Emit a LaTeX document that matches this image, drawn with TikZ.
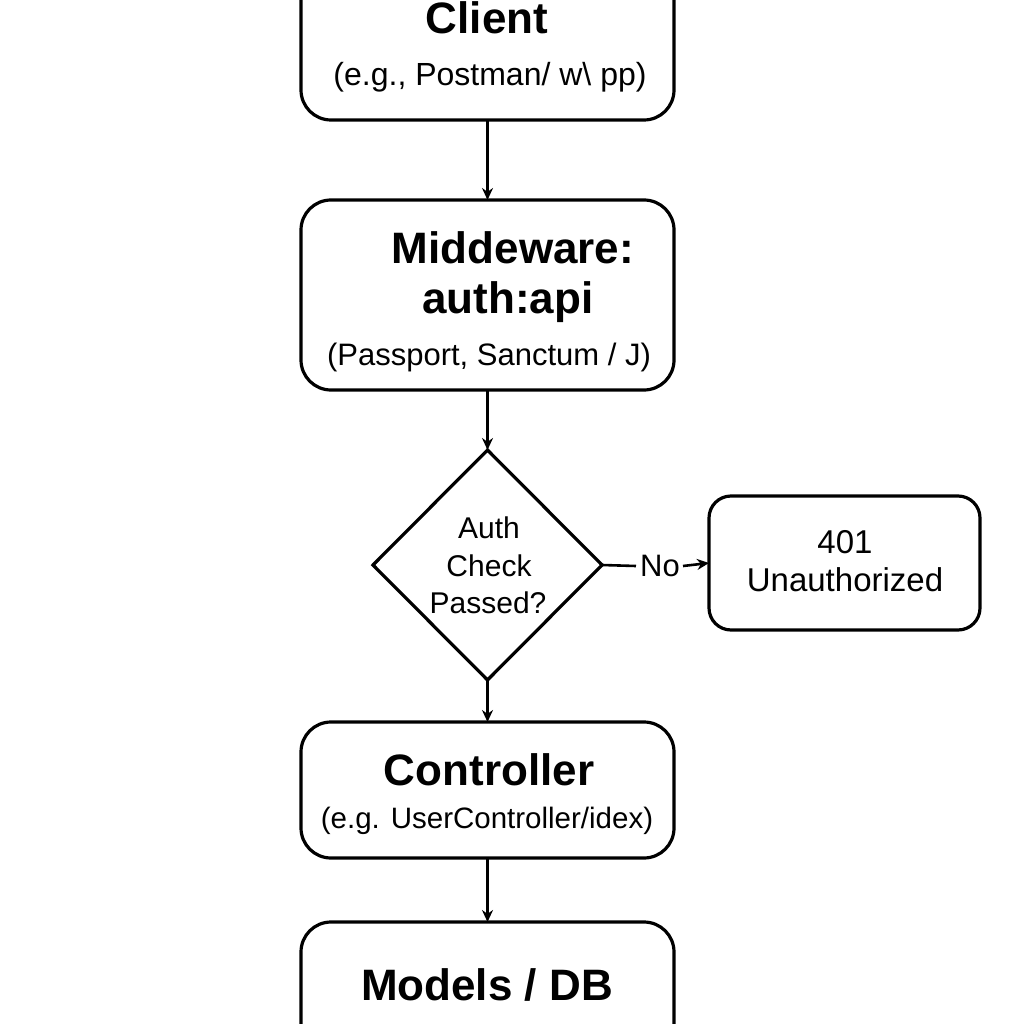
\documentclass[tikz,border=0pt]{standalone}
\usepackage{fontspec}
\setmainfont{Liberation Sans}
\usetikzlibrary{shapes.geometric,arrows.meta}
\begin{document}
\begin{tikzpicture}[x=1pt,y=-1pt,
  box/.style={draw=black,line width=3.2pt,rounded corners=30pt,inner sep=0pt,outer sep=0pt},
  smallbox/.style={draw=black,line width=3.2pt,rounded corners=22pt,inner sep=0pt,outer sep=0pt},
  dia/.style={draw=black,line width=3.2pt,diamond,inner sep=0pt,outer sep=0pt,minimum width=229pt,minimum height=230pt},
  arr/.style={line width=2.6pt,-{Stealth[length=12pt,width=11pt]}},
  ln/.style={line width=2.6pt},
  head/.style={font=\fontsize{44}{48}\selectfont\bfseries,inner sep=0pt},
  sub/.style={font=\fontsize{30}{34}\selectfont,inner sep=0pt},
  dtxt/.style={font=\fontsize{30}{34}\selectfont,inner sep=0pt}
]
\useasboundingbox (0,0) rectangle (1024,1024);
\fill[white] (0,0) rectangle (1024,1024);

% boxes
\node[box,minimum width=373pt,minimum height=180pt] (client) at (487.5,30) {};
\node[box,minimum width=373pt,minimum height=190pt] (mid) at (487.5,295) {};
\node[dia] (chk) at (487.5,565) {};
\node[smallbox,minimum width=271pt,minimum height=134pt] (err) at (844.5,563) {};
\node[box,minimum width=373pt,minimum height=136pt] (ctl) at (487.5,790) {};
\node[box,minimum width=373pt,minimum height=200pt] (mod) at (487.5,1022) {};

% texts
\node[head] (tclient) at (487,18) {Client};
\node[sub,font=\fontsize{32}{36}\selectfont] (sclient) at (490,77) {(e.g., Postman/ w\textbackslash\ pp)};
\node[head] (tmid1) at (513,248) {Middeware:};
\node[head] (tmid2) at (508,302) {auth:api};
\node[sub,font=\fontsize{31}{34}\selectfont] (smid) at (489,357) {(Passport, Sanctum / J)};
\node[dtxt] (d1) at (489,528) {Auth};
\node[dtxt] (d2) at (489,566) {Check};
\node[dtxt] (d3) at (488,603) {Passed?};
\node[dtxt,font=\fontsize{33}{36}\selectfont] (e1) at (845,542) {401};
\node[dtxt,font=\fontsize{33}{36}\selectfont] (e2) at (845,580) {Unauthorized};
\node[head] (tctl) at (489,770) {Controller};
\node[sub,font=\fontsize{29.5}{33}\selectfont] (sctl) at (487,821) {(e.g. UserController/idex)};
\node[head] (tmod) at (487,985) {Models / DB};

% connectors
\draw[arr] (client.south) -- (mid.north);
\draw[arr] (mid.south) -- (chk.north);
\node[dtxt,font=\fontsize{31}{34}\selectfont] (no) at (660,566) {No};
\draw[ln] (chk.east) -- ([xshift=-4pt]no.west);
\draw[arr] ([xshift=3pt]no.east) -- (err.west);
\draw[arr] (chk.south) -- (ctl.north);
\draw[arr] (ctl.south) -- (mod.north);
\end{tikzpicture}
\end{document}
